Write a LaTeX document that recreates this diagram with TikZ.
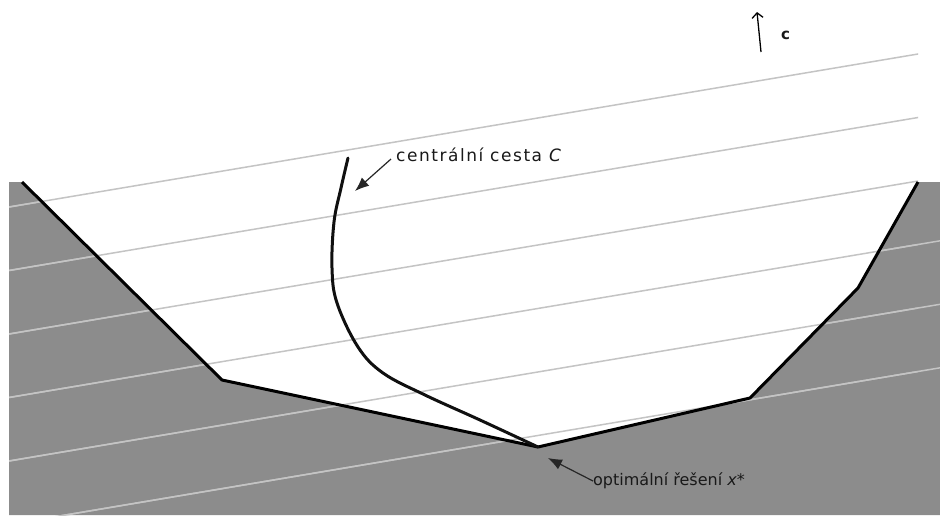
\documentclass[tikz,border=0pt]{standalone}
\usepackage{fontspec}
\setmainfont{DejaVu Sans}
\usepackage{xcolor}
\usetikzlibrary{arrows.meta,positioning}
\definecolor{regionFill}{HTML}{8C8C8C}
\definecolor{levelLine}{HTML}{C4C4C4}
\definecolor{pathLine}{HTML}{101010}

\begin{document}
\begin{tikzpicture}[
  x=1pt, y=-1pt,
  font=\fontsize{16}{19}\selectfont,
  region/.style={
    fill=regionFill
  },
  level line/.style={
    draw=levelLine,
    line width=1.5pt
  },
  border line/.style={
    draw=black,
    line width=3pt,
    line join=round
  },
  central path/.style={
    draw=pathLine,
    line width=3pt,
    line cap=round
  },
  pointer/.style={
    -{Latex[length=14pt,width=11pt]},
    draw=black!85,
    line width=1.2pt
  },
  cost arrow/.style={
    -{Straight Barb[length=5pt,width=11pt]},
    draw=black,
    line width=1.3pt
  },
  label text/.style={
    anchor=west,
    inner sep=0pt,
    text=black!90
  }
]

% Canvas
\useasboundingbox[fill=white] (0,0) rectangle (940,515);

% Vertices of the feasible region
\coordinate (v1) at (22,182);
\coordinate (v2) at (222,380);
\coordinate (optVertex) at (538,447);
\coordinate (v4) at (750,398);
\coordinate (v5) at (858,288);
\coordinate (v6) at (918,182);

% Infeasible part (grey)
\fill[region] (9,182) -- (v1) -- (v2) -- (optVertex) -- (v4) -- (v5) -- (v6)
  -- (940,182) -- (940,515) -- (9,515) -- cycle;

% Level lines of the objective
\begin{scope}
  \clip (9,0) rectangle (918,515);
  \foreach \k in {0,...,5}
    \draw[level line] (9,207+63.5*\k) -- ++(931,-156.7);
\end{scope}
\begin{scope}
  \clip (9,182) -- (v1) -- (v2) -- (optVertex) -- (v4) -- (v5) -- (v6)
    -- (940,182) -- (940,515) -- (9,515) -- cycle;
  \foreach \k in {0,...,5}
    \draw[level line] (9,207+63.5*\k) -- ++(931,-156.7);
\end{scope}

% Boundary of the feasible region
\draw[border line] (v1) -- (v2) -- (optVertex) -- (v4) -- (v5) -- (v6);

% Central path
\draw[central path] plot[smooth, tension=0.6] coordinates {
  (348,158) (341,188) (334,222) (332,268) (337,303) (358,347)
  (383,373) (425,395) (480,420) (optVertex)};

% Cost vector
\coordinate (cFoot) at (761,52);
\coordinate (cHead) at (757,12);
\draw[cost arrow] (cFoot) -- (cHead);
\node[label text, font=\fontsize{15}{17}\selectfont\bfseries] (cLabel) at (781,35) {c};

% Labels
\node[label text, font=\fontsize{17}{20}\selectfont\addfontfeature{LetterSpace=9}]
  (pathLabel) at (396,155) {centrální cesta \textit{C}};
\coordinate (pathTip) at (355,191);
\draw[pointer] (pathLabel.west) ++(-5,4) -- (pathTip);

\node[label text] (optLabel) at (593,481) {optimální řešení \textit{x}*};
\coordinate (optTip) at (548,458);
\draw[pointer] (optLabel.west) -- (optTip);

\end{tikzpicture}
\end{document}
